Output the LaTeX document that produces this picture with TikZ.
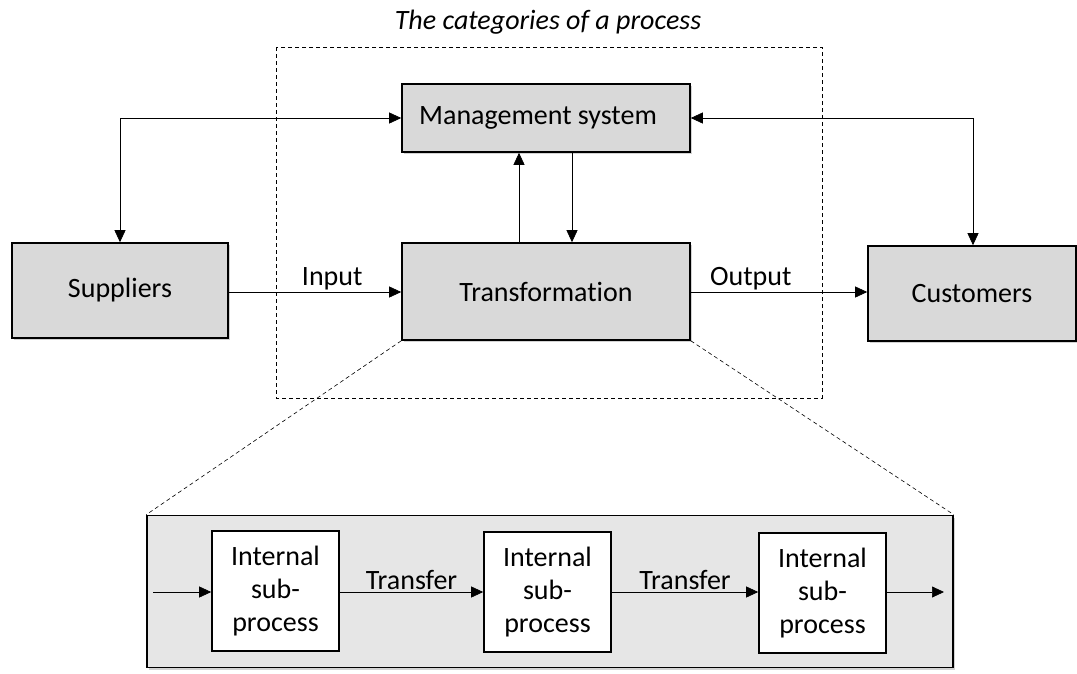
\documentclass[tikz,border=0pt]{standalone}
\usepackage{fontspec}
\setmainfont{Carlito}[Ligatures=CommonOff]
\usetikzlibrary{arrows.meta,shadows}
\begin{document}
\begin{tikzpicture}[x=1pt,y=-1pt,
  box/.style={draw=black,line width=1.6pt,fill=boxgray,inner sep=0pt,
    drop shadow={shadow xshift=2pt,shadow yshift=-2pt,opacity=0.35}},
  subbox/.style={draw=black,line width=1.6pt,fill=white,inner sep=0pt,
    minimum width=127pt,minimum height=120pt,align=center,
    font=\fontsize{28}{33}\selectfont},
  conn/.style={line width=0.7pt,-{Triangle[length=12pt,width=11pt]}},
  biconn/.style={line width=0.7pt,{Triangle[length=12pt,width=11pt]}-{Triangle[length=12pt,width=11pt]}},
  zoomline/.style={line width=0.6pt,dash pattern=on 4pt off 3pt},
  lbl/.style={font=\fontsize{28}{32}\selectfont,inner sep=2pt},
  font=\fontsize{28}{32}\selectfont]
\definecolor{boxgray}{HTML}{D9D9D9}
\definecolor{biggray}{HTML}{E6E6E6}
\useasboundingbox (0,0) rectangle (1077,673);

\node[font=\fontsize{28}{32}\selectfont\itshape] (title) at (548,22) {The categories of a process};
\draw[zoomline] (276,47) rectangle (822,398);

\node[box,minimum width=288pt,minimum height=68pt] (mgmt) at (546,118) {\hspace*{-16pt}Management system};
\node[box,minimum width=288pt,minimum height=97pt] (trans) at (546,291.5) {Transformation};
\node[box,minimum width=216pt,minimum height=95pt] (sup) at (120,290.5) {Suppliers};
\node[box,minimum width=208pt,minimum height=95pt] (cust) at (972,293.5) {Customers};

\coordinate (c1) at (120,118);
\coordinate (c2) at (973,118);
\draw[biconn] (sup.north) -- (c1) -- (mgmt.west);
\draw[biconn] (cust.north -| c2) -- (c2) -- (mgmt.east);
\draw[conn] (trans.north -| 519,0) -- (mgmt.south -| 519,0);
\draw[conn] (mgmt.south -| 572,0) -- (trans.north -| 572,0);
\draw[conn] (sup.east |- 0,292) -- node[lbl,above,pos=0.6] {Input} (trans.west |- 0,292);
\draw[conn] (trans.east |- 0,292) -- node[lbl,above,pos=0.34] {Output} (cust.west |- 0,292);

\node[draw=black,line width=1.6pt,fill=biggray,inner sep=0pt,minimum width=806pt,minimum height=152pt,
  drop shadow={shadow xshift=2pt,shadow yshift=-2pt,opacity=0.35}] (big) at (550,591.5) {};
\draw[zoomline] (trans.south west) -- (big.north west);
\draw[zoomline] (trans.south east) -- (big.north east);

\node[subbox] (s1) at (275.5,591) {Internal\\sub-\\process};
\node[subbox] (s2) at (547.5,592) {Internal\\sub-\\process};
\node[subbox] (s3) at (822.5,593) {Internal\\sub-\\process};
\coordinate (in) at (153,592);
\coordinate (out) at (944,592);
\draw[conn] (in) -- (s1.west |- in);
\draw[conn] (s1.east |- in) -- node[lbl,above] {Transfer} (s2.west |- in);
\draw[conn] (s2.east |- in) -- node[lbl,above] {Transfer} (s3.west |- in);
\draw[conn] (s3.east |- in) -- (out);
\end{tikzpicture}
\end{document}
